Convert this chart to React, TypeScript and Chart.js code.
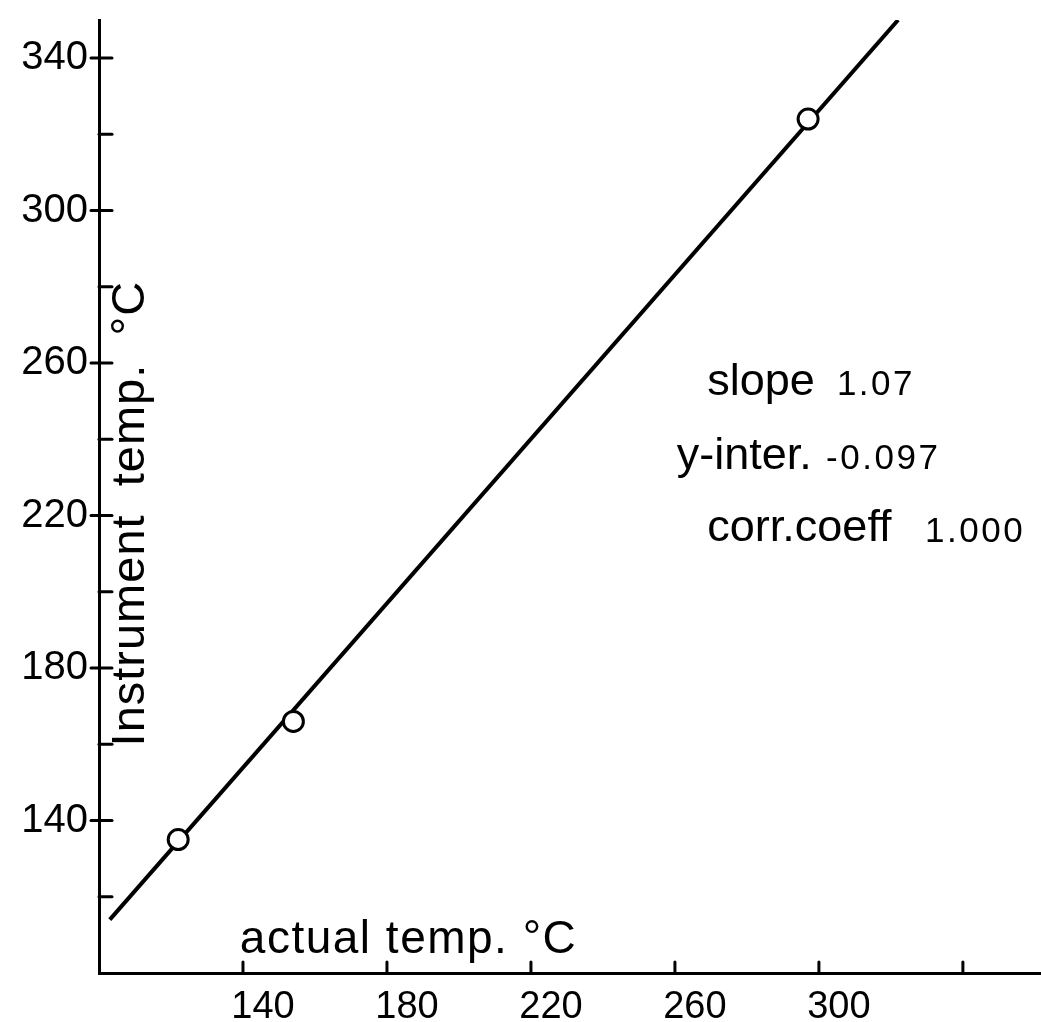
import React, { useEffect, useRef } from 'react';
import { Chart, registerables } from 'chart.js';

Chart.register(...registerables);

// ---- data ----
const actualTemp = [122, 154, 297];
const instrumentTemp = [135, 166, 324];
const fitActual = [103, 322];
const fitInstrument = [114, 350];

const xTickValues = [140, 180, 220, 260, 300, 340];
const xLabelValues = [140, 180, 220, 260, 300];
const yTickValues = [120, 140, 160, 180, 200, 220, 240, 260, 280, 300, 320, 340];
const yLabelValues = [140, 180, 220, 260, 300, 340];

const xTitle = 'actual temp. °C';
const yTitle = 'Instrument  temp.  °C';

const noteWords = ['slope', 'y-inter.', 'corr.coeff'];
const noteNumbers = ['1.07', '-0.097', '1.000'];

const FONT = '"Liberation Sans", Arial, sans-serif';

export default function App() {
  const ref = useRef<HTMLCanvasElement | null>(null);

  useEffect(() => {
    document.body.style.margin = '0';
    document.documentElement.style.overflow = 'hidden';
    document.body.style.overflow = 'hidden';
    if (!ref.current) return;

    const decor = {
      id: 'decor',
      afterDraw(chart: any) {
        const ctx = chart.ctx;
        const xs = chart.scales.x;
        const ys = chart.scales.y;
        const area = chart.chartArea;
        ctx.save();
        ctx.strokeStyle = '#000';
        ctx.lineWidth = 3;
        ctx.lineCap = 'round';
        // inner ticks on x axis
        xTickValues.forEach((v) => {
          const px = xs.getPixelForValue(v);
          ctx.beginPath();
          ctx.moveTo(px, area.bottom);
          ctx.lineTo(px, area.bottom - 11);
          ctx.stroke();
        });
        // ticks on y axis
        yTickValues.forEach((v) => {
          const py = ys.getPixelForValue(v);
          const major = yLabelValues.includes(v);
          ctx.beginPath();
          ctx.moveTo(area.left - (major ? 8 : 0), py);
          ctx.lineTo(area.left + 13, py);
          ctx.stroke();
        });

        ctx.fillStyle = '#000';
        // x title
        ctx.font = `46px ${FONT}`;
        (ctx as any).letterSpacing = '1.5px';
        ctx.textAlign = 'center';
        ctx.textBaseline = 'middle';
        ctx.fillText(xTitle, xs.getPixelForValue(186), ys.getPixelForValue(108.6));
        // y title (rotated)
        ctx.save();
        ctx.translate(xs.getPixelForValue(108.8), ys.getPixelForValue(220.5));
        ctx.rotate(-Math.PI / 2);
        ctx.font = `47px ${FONT}`;
        (ctx as any).letterSpacing = '1px';
        ctx.textAlign = 'center';
        ctx.fillText(yTitle, 0, 0);
        ctx.restore();

        // annotations
        const wordX = [269, 260.5, 269];
        const numX = [305, 302, 329.5];
        const rowY = [255, 235.5, 216.5];
        ctx.textAlign = 'left';
        ctx.textBaseline = 'middle';
        noteWords.forEach((w, i) => {
          ctx.font = `45px ${FONT}`;
          (ctx as any).letterSpacing = '0px';
          ctx.fillText(w, xs.getPixelForValue(wordX[i]), ys.getPixelForValue(rowY[i]));
          ctx.font = `35px ${FONT}`;
          (ctx as any).letterSpacing = '2.5px';
          ctx.fillText(noteNumbers[i], xs.getPixelForValue(numX[i]), ys.getPixelForValue(rowY[i]) + 3);
        });
        ctx.restore();
      },
    };

    const chart = new Chart(ref.current, {
      type: 'scatter',
      data: {
        datasets: [
          {
            label: 'measured',
            data: actualTemp.map((x, i) => ({ x, y: instrumentTemp[i] })),
            pointRadius: 10,
            pointBorderWidth: 3,
            pointBackgroundColor: '#fff',
            pointBorderColor: '#000',
            showLine: false,
          },
          {
            label: 'fit',
            data: fitActual.map((x, i) => ({ x, y: fitInstrument[i] })),
            showLine: true,
            borderColor: '#000',
            borderWidth: 4,
            pointRadius: 0,
          },
        ],
      },
      options: {
        animation: false,
        responsive: true,
        maintainAspectRatio: false,
        devicePixelRatio: 1,
        layout: { autoPadding: false, padding: { top: 20, right: 0, left: 0, bottom: 0 } },
        plugins: { legend: { display: false }, tooltip: { enabled: false } },
        scales: {
          x: {
            type: 'linear',
            min: 100,
            max: 361.7,
            afterFit: (s: any) => {
              s.height = 49;
              s.paddingLeft = 0;
              s.paddingRight = 0;
            },
            afterBuildTicks: (s: any) => { s.ticks = [100, ...xTickValues].map((value) => ({ value })); },
            grid: { display: true, drawOnChartArea: false, drawTicks: false },
            border: { display: true, color: '#000', width: 3 },
            ticks: {
              color: '#000',
              font: { family: FONT, size: 38 },
              padding: 12,
              labelOffset: 20,
              maxRotation: 0,
              autoSkip: false,
              callback: (v: any) => (xLabelValues.includes(v) ? String(v) : ''),
            },
          },
          y: {
            type: 'linear',
            min: 100,
            max: 350,
            afterFit: (s: any) => {
              s.width = 99;
              s.paddingTop = 0;
              s.paddingBottom = 0;
            },
            afterBuildTicks: (s: any) => { s.ticks = [100, ...yTickValues].map((value) => ({ value })); },
            grid: { display: true, drawOnChartArea: false, drawTicks: false },
            border: { display: true, color: '#000', width: 3 },
            ticks: {
              color: '#000',
              font: { family: FONT, size: 40 },
              padding: 11,
              autoSkip: false,
              callback: (v: any) => (yLabelValues.includes(v) ? String(v) : ''),
            },
          },
        },
      },
      plugins: [decor],
    });
    return () => chart.destroy();
  }, []);

  return (
    <div style={{ position: 'absolute', left: 0, top: 0, width: 1041, height: 1022, overflow: 'hidden' }}>
      <canvas ref={ref} style={{ display: 'block' }} />
    </div>
  );
}
